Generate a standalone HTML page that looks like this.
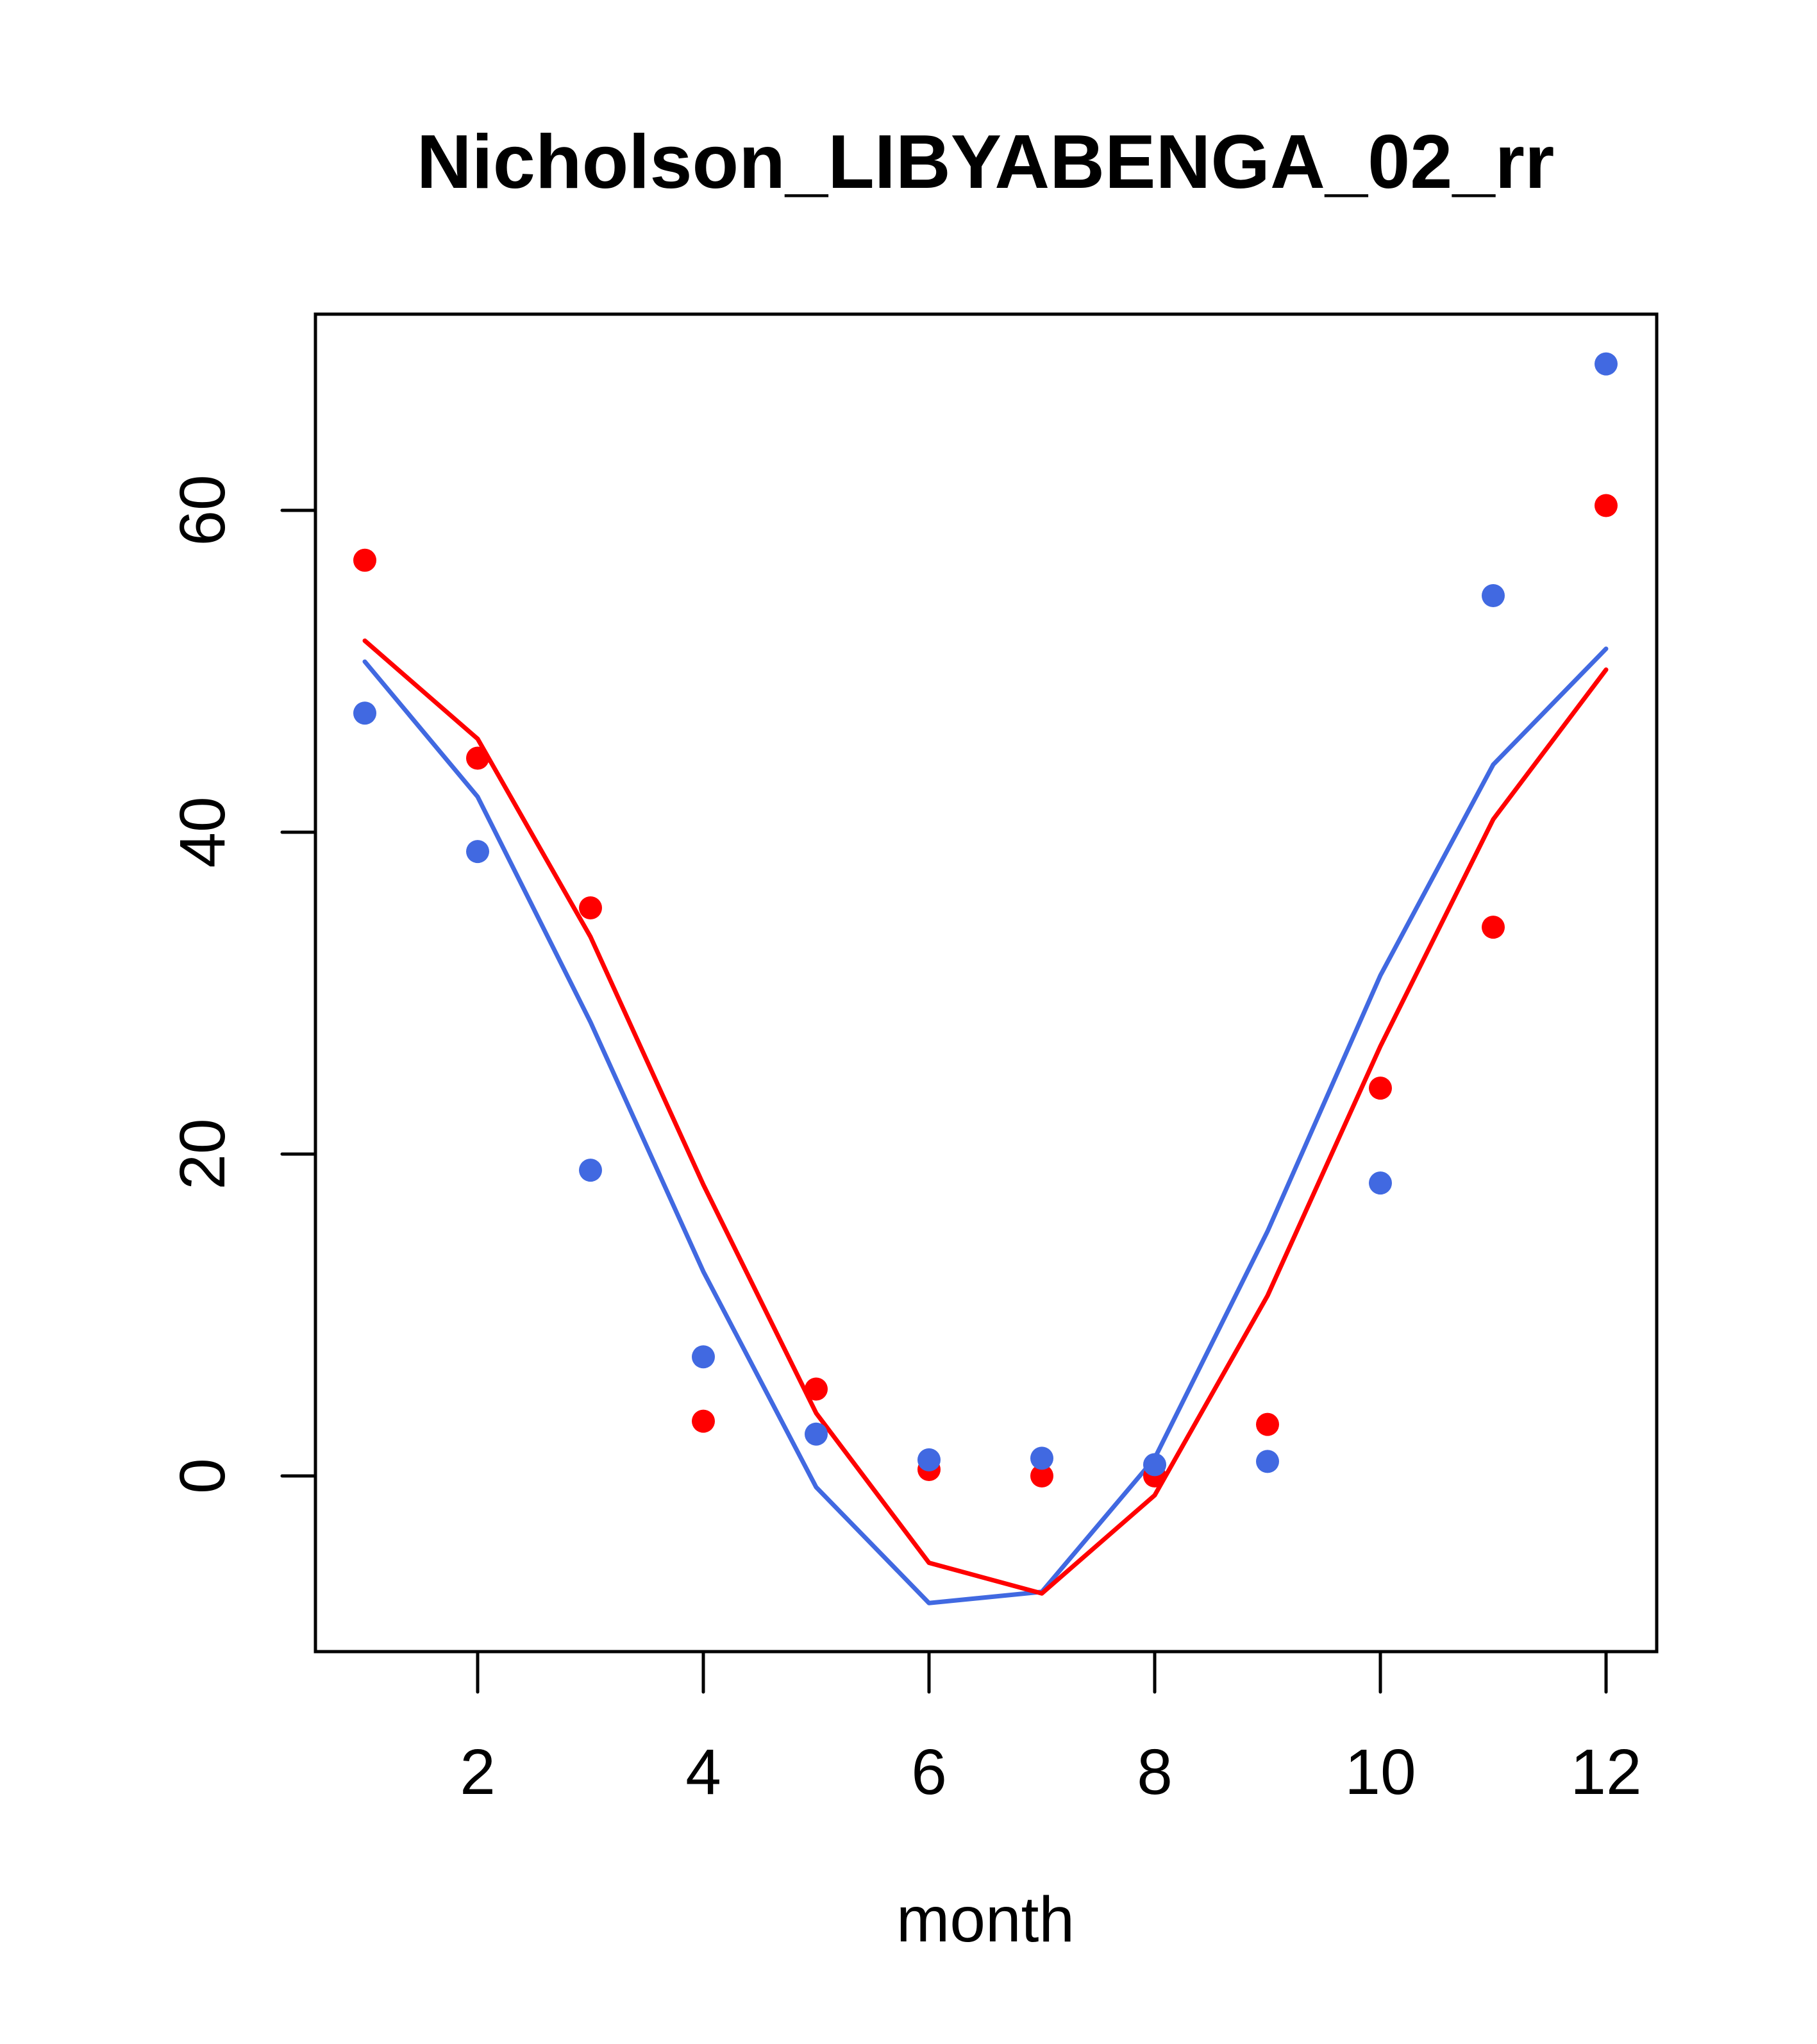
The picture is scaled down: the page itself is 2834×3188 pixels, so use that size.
<!DOCTYPE html>
<html><head><meta charset="utf-8"><style>body{margin:0;background:#fff}svg{display:block}</style></head>
<body>
<svg id="chart" width="2834" height="3188" xmlns="http://www.w3.org/2000/svg" font-family="Liberation Sans, sans-serif">
<text x="1537" y="293" font-size="119" font-weight="bold" text-anchor="middle">Nicholson_LIBYABENGA_02_rr</text>
<text x="1537" y="3028" font-size="100" text-anchor="middle">month</text>
<g id="axes"></g>
<g id="marks"></g>
</svg>
<script>
const months=[1,2,3,4,5,6,7,8,9,10,11,12];
const redPoints=[56.9,44.6,35.3,3.4,5.4,0.4,0,0,3.2,24.1,34.1,60.3];
const bluePoints=[47.4,38.8,19.0,7.4,2.6,1.0,1.1,0.7,0.9,18.2,54.7,69.1];
const redLine=[51.9,45.8,33.5,18.1,3.9,-5.4,-7.3,-1.2,11.2,26.7,40.8,50.1];
const blueLine=[50.6,42.2,28.2,12.7,-0.7,-7.9,-7.2,1.1,15.2,31.1,44.2,51.4];
const xTicks=[2,4,6,8,10,12];
const yTicks=[0,20,40,60];
const NS='http://www.w3.org/2000/svg';
const X=m=>569+(m-1)*176;
const Y=v=>2302-v*25.1;
function mk(tag,attrs,parent){const e=document.createElementNS(NS,tag);for(const k in attrs)e.setAttribute(k,attrs[k]);parent.appendChild(e);return e;}
const ax=document.getElementById('axes'),mg=document.getElementById('marks');
let r=mk('rect',{x:492,y:490,width:2092,height:2086,fill:'none',stroke:'#000','stroke-width':5},ax);


xTicks.forEach(t=>{
 let l=mk('line',{x1:X(t),x2:X(t),y1:2576,y2:2639,stroke:'#000','stroke-width':5,'stroke-linecap':'round'},ax);
 
 
 let tx=mk('text',{x:X(t),y:2798,'font-size':100,'text-anchor':'middle'},ax);tx.textContent=t;
 
 
});
yTicks.forEach(t=>{
 let l=mk('line',{x1:440,x2:492,y1:Y(t),y2:Y(t),stroke:'#000','stroke-width':5,'stroke-linecap':'round'},ax);
 
 
 let tx=mk('text',{x:0,y:0,'font-size':100,'text-anchor':'middle',transform:`translate(350,${Y(t)}) rotate(-90)`},ax);tx.textContent=t;
 
 
});
function line(vals,col,name){
 let p=mk('polyline',{points:vals.map((v,i)=>X(months[i])+','+Y(v)).join(' '),fill:'none',stroke:col,'stroke-width':7,'stroke-linejoin':'round','stroke-linecap':'round'},mg);
 
 
}
function pts(vals,col,name){
 vals.forEach((v,i)=>{
  let c=mk('circle',{cx:X(months[i]),cy:Y(v),r:18,fill:col},mg);
  
  
 });
}
line(blueLine,'#4169E1','blue-line');
line(redLine,'#FF0000','red-line');
pts(redPoints,'#FF0000','red-point');
pts(bluePoints,'#4169E1','blue-point');
</script>
</body></html>
